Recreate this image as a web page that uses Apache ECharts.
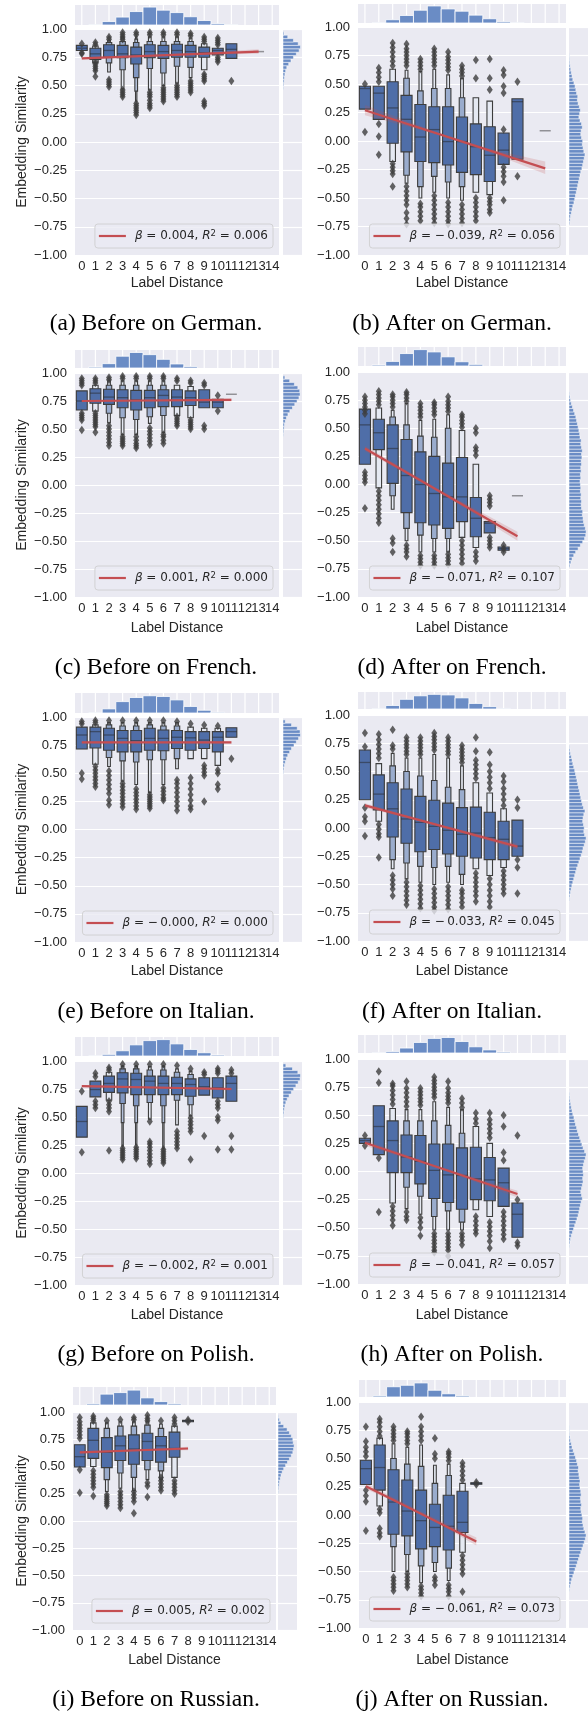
<!DOCTYPE html>
<html><head><meta charset="utf-8">
<script src="https://cdn.jsdelivr.net/npm/echarts@6/dist/echarts.min.js"></script>
<style>html,body{margin:0;padding:0;background:#fff}#c{width:588px;height:1713px}</style>
</head><body><div id="c"></div><script>
// ---------------- DATA ----------------
const cats = ['0','1','2','3','4','5','6','7','8','9','10','11','12','13','14'];
// boxen rows: [category, median, q1, q3, lvl2lo, lvl2hi, lvl3lo, lvl3hi, ...]
const boxA = [[0,0.83,0.81,0.855],[1,0.78,0.73,0.83,0.70,0.85],[2,0.81,0.75,0.86,0.70,0.88,0.62,0.90],[3,0.78,0.745,0.855,0.64,0.89,0.47,0.93],[4,0.77,0.69,0.84,0.57,0.88,0.45,0.91,0.36,0.93],[5,0.80,0.745,0.86,0.65,0.89,0.46,0.93],[6,0.80,0.74,0.855,0.61,0.89,0.50,0.93],[7,0.81,0.75,0.865,0.67,0.89,0.52,0.93],[8,0.80,0.75,0.855,0.66,0.89,0.57,0.92],[9,0.79,0.75,0.84,0.64,0.87],[10,0.81,0.77,0.83],[11,0.82,0.74,0.87],[13,0.80]];
const outA = [[0,0.78,0.79,0.87],[1,0.58,0.63,0.65,0.67,0.69,0.71,0.86,0.88],[2,0.49,0.51,0.53,0.55,0.91,0.93],[3,0.40,0.42,0.44,0.46,0.91,0.93,0.95,0.97],[4,0.24,0.26,0.28,0.30,0.32,0.34,0.95,0.97],[5,0.30,0.32,0.34,0.37,0.40,0.42,0.44,0.95,0.97],[6,0.36,0.38,0.40,0.42,0.44,0.46,0.48,0.95,0.97],[7,0.40,0.42,0.44,0.46,0.48,0.50,0.95,0.97],[8,0.44,0.46,0.48,0.50,0.52,0.54,0.94,0.96],[9,0.32,0.34,0.36,0.54,0.56,0.58,0.60,0.89,0.91,0.93],[10,0.71,0.73,0.75,0.86,0.88,0.90,0.92],[11,0.54]];
const regA = [[0,0.74],[13,0.80]];
const ciA = [[0,0.728,0.752],[6,0.765,0.775],[13,0.78,0.82]];
const legA = ['0.004','0.006'];

const boxB = [[0,0.46,0.28,0.48],[1,0.42,0.19,0.48],[2,0.29,-0.02,0.52,-0.18,0.63],[3,0.19,-0.095,0.40,-0.30,0.55,-0.37,0.62],[4,0.035,-0.18,0.32,-0.40,0.44,-0.50,0.61],[5,0.10,-0.19,0.30,-0.31,0.46,-0.45,0.63],[6,-0.005,-0.21,0.30,-0.36,0.46,-0.50,0.58],[7,-0.005,-0.275,0.21,-0.40,0.38,-0.52,0.55],[8,-0.05,-0.295,0.15,-0.45,0.38],[9,-0.125,-0.355,0.125,-0.47,0.35],[10,-0.08,-0.205,0.07],[11,0.345,-0.16,0.37],[13,0.09]];
const outB = [[0,0.08,0.50],[1,0.64,0.60,0.56,0.52,0.15,0.04,-0.12],[2,0.66,0.70,0.74,0.78,0.82,0.86,-0.20,-0.23,-0.26,-0.29,-0.40],[3,0.66,0.69,0.72,0.75,0.78,0.81,0.85,-0.40,-0.44,-0.48,-0.52,-0.56,-0.63,-0.68,-0.73],[4,0.63,0.66,0.69,0.72,-0.55,-0.58,-0.62,-0.66,-0.70],[5,0.66,0.69,0.72,0.75,0.78,0.81,-0.48,-0.52,-0.56,-0.60,-0.64,-0.68,-0.72],[6,0.62,0.65,0.68,0.71,0.74,0.78,-0.54,-0.58,-0.62,-0.66,-0.70,-0.73],[7,0.57,0.60,0.63,0.66,-0.56,-0.60,-0.64,-0.68,-0.72],[8,0.55,0.71,-0.50,-0.54,-0.58,-0.62,-0.66,-0.70],[9,0.45,0.55,0.72,-0.50,-0.53,-0.56,-0.60,-0.63],[10,0.62,0.58,0.48,0.42,0.10,-0.23,-0.27,-0.31,-0.36,-0.52],[11,0.52,-0.31]];
const regB = [[0,0.27],[13,-0.24]];
const ciB = [[0,0.225,0.315],[5,0.065,0.085],[9,-0.10,-0.07],[13,-0.29,-0.18]];
const legB = ['−\u20090.039','0.056'];

const boxC = [[0,0.75,0.67,0.84],[1,0.82,0.73,0.86,0.66,0.89],[2,0.785,0.72,0.855,0.64,0.89,0.555,0.93],[3,0.78,0.69,0.85,0.60,0.89,0.45,0.93],[4,0.76,0.67,0.845,0.585,0.89,0.45,0.93],[5,0.78,0.69,0.845,0.61,0.89,0.55,0.93],[6,0.80,0.70,0.85,0.62,0.89,0.47,0.93],[7,0.785,0.70,0.85,0.62,0.89],[8,0.78,0.71,0.84,0.60,0.88],[9,0.74,0.69,0.85],[10,0.74,0.69,0.765],[11,0.81]];
const outC = [[0,0.49,0.58,0.60,0.62,0.64,0.89,0.91,0.93,0.95],[1,0.47,0.52,0.54,0.56,0.58,0.60,0.62,0.64,0.91,0.93,0.95],[2,0.35,0.38,0.41,0.44,0.47,0.50,0.53,0.94,0.96],[3,0.35,0.37,0.39,0.41,0.43,0.95,0.97],[4,0.33,0.35,0.37,0.40,0.43,0.95,0.97],[5,0.36,0.39,0.42,0.45,0.48,0.51,0.95,0.97],[6,0.37,0.40,0.43,0.45,0.95,0.97],[7,0.53,0.55,0.57,0.59,0.61,0.93,0.95],[8,0.50,0.52,0.54,0.56,0.58,0.91,0.93],[9,0.50,0.53,0.89,0.91],[10,0.66,0.80]];
const regC = [[0,0.75],[11,0.76]];
const ciC = [[0,0.74,0.76],[5,0.75,0.76],[11,0.745,0.775]];
const legC = ['0.001','0.000'];

const boxD = [[0,0.53,0.18,0.67],[1,0.46,0.31,0.58,-0.03,0.68],[2,0.32,0.01,0.53,-0.10,0.60,-0.22,0.66],[3,0.08,-0.25,0.40,-0.39,0.53,-0.50,0.72],[4,0.00,-0.34,0.29,-0.45,0.43,-0.60,0.57],[5,-0.08,-0.36,0.25,-0.48,0.42,-0.60,0.58],[6,-0.11,-0.39,0.19,-0.48,0.50,-0.60,0.62],[7,-0.11,-0.33,0.24,-0.47,0.48],[8,-0.30,-0.465,-0.115,-0.56,0.18],[9,-0.345,-0.43,-0.33],[10,-0.57,-0.585,-0.555],[11,-0.10]];
const outD = [[0,0.63,0.66,0.69,0.72,0.75,0.78,0.11,0.08,0.05,0.02,-0.21],[1,0.71,0.74,0.77,0.80,0.83,-0.06,-0.10,-0.14,-0.18,-0.22,-0.26,-0.30,-0.34],[2,0.69,0.72,0.75,0.78,0.80,-0.48,-0.52,-0.60],[3,0.74,0.77,0.80,0.82,-0.54,-0.57,-0.60,-0.64],[4,0.60,0.63,0.66,0.69,0.72,-0.63,-0.66,-0.69,-0.72],[5,0.62,0.65,0.68,0.71,0.73,-0.63,-0.66,-0.69,-0.72],[6,0.65,0.68,0.71,0.74,0.78,-0.62,-0.65,-0.68,-0.71],[7,0.51,0.54,0.57,0.60,0.62,-0.50,-0.54,-0.58,-0.62,-0.66,-0.70],[8,0.26,0.30,0.33,0.46,0.50,-0.60,-0.64,-0.68],[9,-0.10,-0.13,-0.16,-0.19,-0.47,-0.50,-0.53,-0.56],[10,-0.54,-0.57,-0.60]];
const regD = [[0,0.32],[11,-0.46]];
const ciD = [[0,0.295,0.345],[5,-0.04,-0.02],[11,-0.50,-0.42]];
const legD = ['−\u20090.071','0.107'];

const boxE = [[0,0.84,0.715,0.91],[1,0.87,0.725,0.91,0.58,0.93],[2,0.84,0.705,0.90,0.64,0.93,0.56,0.95],[3,0.81,0.69,0.88,0.61,0.92,0.43,0.95],[4,0.79,0.69,0.88,0.60,0.92,0.40,0.95],[5,0.81,0.705,0.90,0.62,0.93,0.33,0.95],[6,0.81,0.70,0.885,0.62,0.92,0.40,0.95],[7,0.82,0.72,0.88,0.63,0.92,0.54,0.95],[8,0.815,0.705,0.87,0.63,0.91],[9,0.795,0.72,0.87,0.63,0.90],[10,0.82,0.69,0.87,0.57,0.90],[11,0.87,0.82,0.905]];
const outE = [[0,0.45,0.50,0.94,0.96],[1,0.38,0.41,0.44,0.47,0.50,0.53,0.56,0.95,0.97],[2,0.22,0.26,0.32,0.36,0.40,0.44,0.48,0.52,0.97],[3,0.20,0.23,0.26,0.29,0.32,0.35,0.38,0.41,0.97],[4,0.18,0.21,0.24,0.27,0.30,0.33,0.36,0.97],[5,0.19,0.21,0.23,0.25,0.27,0.29,0.31,0.97],[6,0.26,0.28,0.31,0.34,0.37,0.97],[7,0.17,0.21,0.25,0.29,0.33,0.37,0.41,0.44,0.96],[8,0.18,0.21,0.26,0.31,0.36,0.41,0.46,0.94],[9,0.25,0.48,0.51,0.54,0.57,0.93],[10,0.36,0.40,0.50,0.53,0.92],[11,0.63]];
const regE = [[0,0.775],[11,0.775]];
const ciE = [[0,0.765,0.785],[5,0.77,0.78],[11,0.763,0.787]];
const legE = ['−\u20090.000','0.000'];

const boxF = [[0,0.58,0.25,0.69],[1,0.30,0.16,0.47,0.06,0.57],[2,0.17,-0.08,0.40,-0.28,0.55,-0.36,0.66],[3,0.08,-0.135,0.345,-0.31,0.50,-0.45,0.62],[4,0.05,-0.21,0.28,-0.34,0.46,-0.48,0.62],[5,0.015,-0.19,0.245,-0.35,0.42,-0.50,0.65],[6,-0.02,-0.23,0.22,-0.34,0.36,-0.48,0.62],[7,-0.055,-0.25,0.18,-0.41,0.34,-0.50,0.55],[8,-0.045,-0.265,0.185,-0.36,0.40],[9,-0.085,-0.28,0.14,-0.42,0.31],[10,-0.10,-0.28,0.06,-0.35,0.17],[11,-0.16,-0.25,0.07]];
const outF = [[0,0.84,0.72,0.18,0.10,0.06,-0.07],[1,0.62,0.66,0.70,0.74,0.78,0.83,0.03,-0.01,-0.05,-0.08,-0.26],[2,0.70,0.73,0.87,-0.42,-0.46,-0.50,-0.54,-0.60],[3,0.65,0.68,0.71,0.74,0.77,0.80,-0.48,-0.52,-0.56,-0.60,-0.64,-0.68],[4,0.65,0.68,0.71,0.74,0.77,0.80,-0.51,-0.55,-0.59,-0.63,-0.67,-0.71],[5,0.69,0.72,0.75,0.78,0.81,0.84,-0.54,-0.58,-0.62,-0.66,-0.70,-0.73],[6,0.65,0.68,0.71,0.74,0.77,0.80,-0.52,-0.56,-0.60,-0.64,-0.68,-0.72],[7,0.58,0.61,0.64,0.67,0.70,0.73,-0.55,-0.58,-0.62,-0.66,-0.70],[8,0.44,0.48,0.52,0.56,0.60,0.68,0.80,-0.40,-0.44,-0.48,-0.52,-0.56,-0.60,-0.65],[9,0.35,0.40,0.45,0.50,0.56,0.67,-0.45,-0.50,-0.55,-0.60,-0.65,-0.70],[10,0.20,0.25,0.30,0.35,0.41,0.46,-0.38,-0.42,-0.46,-0.50,-0.54,-0.58],[11,0.25,0.18,-0.28,-0.35,-0.58]];
const regF = [[0,0.20],[11,-0.165]];
const ciF = [[0,0.18,0.22],[5,0.03,0.045],[11,-0.19,-0.14]];
const legF = ['−\u20090.033','0.045'];

const boxG = [[0,0.46,0.32,0.595],[1,0.745,0.68,0.82],[2,0.80,0.72,0.865,0.65,0.90],[3,0.84,0.715,0.895,0.62,0.93,0.45,0.95,0.24,0.96],[4,0.835,0.70,0.89,0.60,0.93,0.45,0.95,0.25,0.96],[5,0.82,0.70,0.865,0.63,0.92,0.48,0.95],[6,0.80,0.70,0.865,0.60,0.92,0.45,0.95,0.22,0.96],[7,0.80,0.70,0.855,0.65,0.90,0.43,0.93],[8,0.79,0.685,0.84,0.61,0.88,0.51,0.91],[9,0.77,0.695,0.85],[10,0.76,0.67,0.85],[11,0.80,0.64,0.865]];
const outG = [[0,0.73,0.185],[1,0.86,0.89,0.64,0.61,0.58],[2,0.20,0.55,0.58,0.61,0.64,0.92,0.94],[3,0.12,0.14,0.16,0.18,0.20,0.22,0.97],[4,0.13,0.15,0.17,0.19,0.21,0.23,0.97],[5,0.08,0.11,0.14,0.17,0.20,0.23,0.26,0.28,0.46,0.97],[6,0.09,0.11,0.13,0.15,0.17,0.19,0.21,0.97],[7,0.22,0.25,0.28,0.31,0.34,0.37,0.96],[8,0.12,0.37,0.40,0.43,0.46,0.49,0.93],[9,0.33,0.88,0.90],[10,0.21,0.47,0.50,0.58,0.61,0.64,0.89,0.91,0.93],[11,0.21,0.33,0.89,0.92]];
const regG = [[0,0.775],[11,0.75]];
const ciG = [[0,0.765,0.785],[5,0.76,0.77],[11,0.737,0.763]];
const legG = ['−\u20090.002','0.001'];

const boxH = [[0,0.275,0.25,0.295],[1,0.40,0.15,0.585],[2,0.275,-0.01,0.45,-0.28,0.56],[3,0.13,-0.01,0.325,-0.14,0.45,-0.33,0.55],[4,0.09,-0.11,0.32,-0.22,0.45,-0.38,0.55],[5,0.01,-0.24,0.245,-0.40,0.45,-0.52,0.62],[6,-0.03,-0.275,0.245,-0.35,0.41,-0.52,0.57],[7,-0.035,-0.335,0.21,-0.45,0.34,-0.52,0.55],[8,-0.065,-0.25,0.215,-0.34,0.40],[9,-0.075,-0.26,0.125,-0.40,0.25],[10,-0.10,-0.31,0.03],[11,-0.38,-0.585,-0.28]];
const outH = [[0,0.23,0.32],[1,0.89,0.79,0.12,-0.36],[2,0.60,0.64,0.68,0.72,0.76,0.78,-0.31,-0.35,-0.39,-0.43,-0.48],[3,0.58,0.62,0.66,0.70,0.74,0.80,-0.36,-0.40,-0.43],[4,0.59,0.62,0.65,0.68,0.71,0.74,-0.41,-0.45,-0.50,-0.57],[5,0.66,0.69,0.72,0.75,0.78,0.81,0.84,-0.55,-0.58,-0.61,-0.64,-0.67,-0.70,-0.72],[6,0.61,0.64,0.67,0.70,0.74,0.80,-0.55,-0.58,-0.61,-0.64,-0.67,-0.70,-0.75],[7,0.57,0.61,0.65,-0.55,-0.58,-0.61,-0.65],[8,0.43,0.47,0.52,-0.40,-0.44,-0.48,-0.52,-0.55],[9,0.30,0.34,0.38,0.42,0.46,0.52,-0.45,-0.49,-0.53,-0.57,-0.62,-0.68],[10,0.50,0.40,0.17,0.10,-0.36,-0.40,-0.44,-0.48,-0.52,-0.56,-0.60],[11,0.32,-0.25,-0.63,-0.66]];
const regH = [[0,0.255],[11,-0.20]];
const ciH = [[0,0.23,0.28],[5,0.04,0.06],[11,-0.23,-0.17]];
const legH = ['−\u20090.041','0.057'];

const boxI = [[0,0.59,0.495,0.70],[1,0.74,0.575,0.85,0.50,0.90],[2,0.63,0.49,0.765,0.38,0.85,0.27,0.90],[3,0.69,0.555,0.78,0.44,0.87,0.30,0.91],[4,0.66,0.52,0.79,0.40,0.87,0.28,0.91],[5,0.73,0.555,0.805,0.47,0.88,0.38,0.91],[6,0.69,0.54,0.775,0.46,0.85,0.38,0.89],[7,0.665,0.585,0.815,0.40,0.87],[8,0.92,0.915,0.925]];
const outI = [[0,0.76,0.79,0.82,0.85,0.88,0.91,0.95,0.47,0.26],[1,0.23,0.31,0.34,0.37,0.40,0.43,0.46,0.92,0.94,0.96],[2,0.14,0.16,0.18,0.20,0.22,0.24,0.92],[3,0.12,0.15,0.18,0.21,0.24,0.27,0.93],[4,0.07,0.18,0.21,0.24,0.27,0.93,0.95],[5,0.22,0.32,0.35,0.92,0.94,0.97],[6,0.28,0.31,0.34,0.37,0.40,0.92],[7,0.25,0.28,0.31,0.34,0.37,0.89,0.92,0.95],[8,0.91,0.93]];
const regI = [[0,0.63],[8,0.665]];
const ciI = [[0,0.618,0.642],[4,0.642,0.652],[8,0.648,0.682]];
const legI = ['0.005','0.002'];

const boxJ = [[0,0.41,0.27,0.485],[1,0.42,0.22,0.62,0.08,0.68],[2,0.115,-0.17,0.40,-0.28,0.50,-0.50,0.63],[3,0.035,-0.185,0.31,-0.35,0.45,-0.50,0.60],[4,-0.05,-0.30,0.22,-0.45,0.43,-0.60,0.62],[5,-0.11,-0.28,0.095,-0.42,0.28,-0.50,0.44],[6,-0.10,-0.31,0.175,-0.47,0.35,-0.58,0.45],[7,-0.065,-0.155,0.21,-0.33,0.28],[8,0.28,0.275,0.285]];
const outJ = [[0,0.78,0.65,0.60,0.56,0.52,0.22,0.17,0.12,-0.14],[1,0.70,0.74,0.78,0.82,0.85,0.05,0.02,-0.12,-0.16,-0.19],[2,0.66,0.69,0.72,0.75,0.78,-0.55,-0.58,-0.61,-0.64,-0.67],[3,0.63,0.66,0.69,0.72,0.74,-0.52,-0.55,-0.58,-0.61,-0.64],[4,0.66,0.70,0.74,0.78,0.87,-0.63,-0.66,-0.69,-0.72],[5,0.50,0.54,0.68,-0.55,-0.58,-0.62],[6,0.48,0.51,0.54,0.56,-0.62,-0.65,-0.68,-0.72],[7,0.31,0.35,0.39,0.43,0.46,-0.36,-0.40,-0.44,-0.48,-0.52,-0.68],[8,0.27,0.29]];
const regJ = [[0,0.255],[8,-0.235]];
const ciJ = [[0,0.23,0.28],[4,0.01,0.03],[8,-0.27,-0.20]];
const legJ = ['−\u20090.061','0.073'];

// top marginal histograms (per category slot)
const topDE = [0,1,10,23,39,52,43,36,24,13,4,1,0,0,0];
const topFR = [0,3,14,38,50,43,28,13,5,0,0,0,0,0,0];
const topIT = [0,1,12,33,45,50,48,38,19,8,2,0,0,0,0];
const topPL = [0,1,5,16,34,47,50,37,20,10,3,0,0,0,0];
const topRU = [0,4,35,40,48,23,11,4,0,0,0,0,0,0,0];

// side marginal histograms: first bin centre, bin width 0.03, relative counts
const sideBin = 0.03;
const sideStartA = 0.48, sideA = [3,4,6,8,10,14,20,30,42,55,70,85,92,80,55,25,5];
const sideStartB = -0.72, sideB = [4,6,8,12,16,20,26,30,34,38,42,46,50,54,58,62,68,72,76,80,84,78,74,70,72,66,62,64,70,66,58,52,56,60,54,48,44,46,40,36,32,26,20,16,12,9,6,4,3,2];
const sideStartC = 0.45, sideC = [3,4,6,8,12,18,26,36,50,62,74,84,90,88,78,60,35,10];
const sideStartD = -0.72, sideD = [5,10,16,25,35,48,60,72,82,88,90,86,80,76,74,70,72,66,64,66,62,64,60,62,60,58,62,60,64,62,66,64,68,66,70,66,62,64,58,56,52,48,44,40,36,30,24,18,12,8,5,3];
const sideStartE = 0.51, sideE = [3,5,8,12,18,25,35,45,58,70,82,92,90,75,45,12];
const sideStartF = -0.63, sideF = [3,5,8,11,15,20,25,30,35,40,46,52,58,64,70,74,80,86,90,82,78,80,76,72,74,78,84,76,70,66,62,58,54,50,46,42,38,34,30,25,20,16,12,8,5,3];
const sideStartG = 0.51, sideG = [3,5,7,10,15,22,32,44,56,68,80,90,92,78,50,15];
const sideStartH = -0.66, sideH = [3,5,8,12,18,24,30,36,42,48,52,56,60,64,70,66,62,66,70,74,72,76,74,72,76,80,86,90,82,74,68,62,56,50,44,40,34,30,26,20,16,12,9,6,4,3];
const sideStartI = 0.27, sideI = [3,4,6,8,12,16,22,30,40,50,60,70,78,82,85,80,78,70,60,48,30,15,8,3];
const sideStartJ = -0.66, sideJ = [3,6,10,14,20,26,32,38,44,50,56,62,68,74,80,86,90,84,78,74,70,72,68,64,62,66,62,60,64,62,58,56,58,54,52,48,50,44,40,34,28,22,16,12,8,5,3,2,2];

const captions = ['(a) Before on German.','(b) After on German.','(c) Before on French.','(d) After on French.','(e) Before on Italian.','(f) After on Italian.','(g) Before on Polish.','(h) After on Polish.','(i) Before on Russian.','(j) After on Russian.'];
const xName = 'Label Distance', yName = 'Embedding Similarity';

// ---------------- STYLE / LAYOUT ----------------
const C = {bg:'#eaeaf2', grid:'#ffffff', text:'#262626', box:'#4f6ea8', edge:'#3d3d3d', hist:'#6a8cc5', red:'#c44e52'};
const SANS = '"Liberation Sans", Arial, sans-serif';
const panels = [
 {box:boxA,out:outA,reg:regA,ci:ciA,leg:legA,top:topDE,ss:sideStartA,side:sideA,main:[75,29,204,226],tp:[75,5,204,20],sd:[283,29,19,226],lab:283,cap:324,left:true},
 {box:boxB,out:outB,reg:regB,ci:ciB,leg:legB,top:topDE,ss:sideStartB,side:sideB,main:[358,27,208,228],tp:[358,4,208,19],sd:[569,27,20,228],lab:283,cap:324,left:false},
 {box:boxC,out:outC,reg:regC,ci:ciC,leg:legC,top:topFR,ss:sideStartC,side:sideC,main:[75,373,204,224],tp:[75,350,204,18],sd:[283,373,19,224],lab:628,cap:668,left:true},
 {box:boxD,out:outD,reg:regD,ci:ciD,leg:legD,top:topFR,ss:sideStartD,side:sideD,main:[358,372,208,225],tp:[358,347,208,19],sd:[569,372,20,225],lab:628,cap:668,left:false},
 {box:boxE,out:outE,reg:regE,ci:ciE,leg:legE,top:topIT,ss:sideStartE,side:sideE,main:[75,717,204,225],tp:[75,693,204,20],sd:[283,717,19,225],lab:971,cap:1012,left:true},
 {box:boxF,out:outF,reg:regF,ci:ciF,leg:legF,top:topIT,ss:sideStartF,side:sideF,main:[358,715,208,226],tp:[358,692,208,17],sd:[569,715,20,226],lab:971,cap:1012,left:false},
 {box:boxG,out:outG,reg:regG,ci:ciG,leg:legG,top:topPL,ss:sideStartG,side:sideG,main:[75,1061,204,224],tp:[75,1037,204,19],sd:[283,1061,19,224],lab:1315,cap:1355,left:true},
 {box:boxH,out:outH,reg:regH,ci:ciH,leg:legH,top:topPL,ss:sideStartH,side:sideH,main:[358,1059,208,225],tp:[358,1035,208,18],sd:[569,1059,20,225],lab:1315,cap:1355,left:false},
 {box:boxI,out:outI,reg:regI,ci:ciI,leg:legI,top:topRU,ss:sideStartI,side:sideI,main:[73,1412,203,218],tp:[73,1387,203,18],sd:[278,1412,19,218],lab:1660,cap:1700,left:true},
 {box:boxJ,out:outJ,reg:regJ,ci:ciJ,leg:legJ,top:topRU,ss:sideStartJ,side:sideJ,main:[359,1402,207,226],tp:[359,1380,207,17],sd:[569,1402,20,226],lab:1660,cap:1700,left:false}
];

function mix(a, b, t) {
  const pa = [1,3,5].map(i => parseInt(a.substr(i,2),16));
  const pb = [1,3,5].map(i => parseInt(b.substr(i,2),16));
  return 'rgb(' + pa.map((v,i) => Math.round(v + (pb[i]-v)*t)).join(',') + ')';
}
function fmtY(v) { return (v < 0 ? '−' : '') + Math.abs(v).toFixed(2); }
const mctx = document.createElement('canvas').getContext('2d');
function tw(s, font) { mctx.font = font; return mctx.measureText(s).width; }

function boxenItem(boxes) {
  return function (params, api) {
    const b = boxes[params.dataIndex];
    const cat = b[0];
    const cx = api.coord([cat, 0])[0];
    const bw = api.size([1, 0])[0] * 0.8;
    const n = (b.length - 2) / 2;
    const ym = api.coord([cat, b[1]])[1];
    const ch = [];
    if (n < 1) {
      ch.push({type:'line', shape:{x1:cx-bw/2, y1:ym, x2:cx+bw/2, y2:ym}, style:{stroke:'rgba(38,38,38,0.45)', lineWidth:1.5}});
      return {type:'group', children:ch};
    }
    for (let j = n - 1; j >= 0; j--) {
      const lo = b[2+2*j], hi = b[3+2*j];
      const w = bw * Math.pow(0.5, j);
      const yt = api.coord([cat, hi])[1], yb = api.coord([cat, lo])[1];
      const t = n === 1 ? 0 : 0.85 * j / (n - 1);
      ch.push({type:'rect', shape:{x:cx-w/2, y:yt, width:w, height:Math.max(yb-yt, 1.5)},
        style:{fill:mix(C.box,'#ffffff',t), stroke:C.edge, lineWidth:1.1}});
    }
    ch.push({type:'line', shape:{x1:cx-bw/2, y1:ym, x2:cx+bw/2, y2:ym}, style:{stroke:'rgba(38,38,38,0.5)', lineWidth:1.3}});
    return {type:'group', children:ch};
  };
}

const grid = [], xAxis = [], yAxis = [], series = [], graphic = [];
panels.forEach((p, i) => {
  const g0 = 3*i, g1 = 3*i+1, g2 = 3*i+2;
  grid.push({left:p.main[0], top:p.main[1], width:p.main[2], height:p.main[3], show:true, backgroundColor:C.bg, borderWidth:0});
  grid.push({left:p.tp[0], top:p.tp[1], width:p.tp[2], height:p.tp[3], show:true, backgroundColor:C.bg, borderWidth:0});
  grid.push({left:p.sd[0], top:p.sd[1], width:p.sd[2], height:p.sd[3], show:true, backgroundColor:C.bg, borderWidth:0});
  xAxis.push({gridIndex:g0, type:'category', data:cats, boundaryGap:true, axisLine:{show:false}, axisTick:{show:false}, splitLine:{show:false},
    axisLabel:{interval:0, color:C.text, fontFamily:SANS, fontSize:13, margin:5}});
  xAxis.push({gridIndex:g1, type:'category', data:cats, boundaryGap:true, show:false});
  xAxis.push({gridIndex:g2, type:'value', min:0, max:100, show:false});
  yAxis.push({gridIndex:g0, type:'value', min:-1, max:1, interval:0.25, axisLine:{show:false}, axisTick:{show:false},
    splitLine:{show:true, lineStyle:{color:C.grid, width:1.2}},
    axisLabel:{color:C.text, fontFamily:SANS, fontSize:13, margin:8, formatter:fmtY}});
  yAxis.push({gridIndex:g1, type:'value', min:0, max:58, show:false});
  yAxis.push({gridIndex:g2, type:'value', min:-1, max:1, interval:0.25, axisLine:{show:false}, axisTick:{show:false}, axisLabel:{show:false},
    splitLine:{show:true, lineStyle:{color:C.grid, width:1.2}}});

  // top histogram: white vertical grid at slot centres, then bars
  series.push({type:'custom', xAxisIndex:g1, yAxisIndex:g1, z:1, silent:true,
    data: cats.map((c,k) => [k, 0]),
    renderItem: (params, api) => {
      const a = api.coord([api.value(0), 0]), b = api.coord([api.value(0), 58]);
      return {type:'line', shape:{x1:a[0], y1:a[1], x2:b[0], y2:b[1]}, style:{stroke:'#ffffff', lineWidth:1.2}};
    }});
  series.push({type:'custom', xAxisIndex:g1, yAxisIndex:g1, z:2, silent:true,
    data: p.top.map((v,k) => [k, v]),
    renderItem: (params, api) => {
      const v = api.value(1); if (!v) return null;
      const w = api.size([1, 0])[0];
      const a = api.coord([api.value(0), 0]), b = api.coord([api.value(0), v]);
      return {type:'rect', shape:{x:a[0]-w/2, y:b[1], width:w, height:a[1]-b[1]}, style:{fill:C.hist, stroke:'#ffffff', lineWidth:0.8}};
    }});
  // side histogram
  series.push({type:'custom', xAxisIndex:g2, yAxisIndex:g2, z:2, silent:true,
    data: p.side.map((v,k) => [v, p.ss + k*sideBin]),
    renderItem: (params, api) => {
      const v = api.value(0), yc = api.value(1);
      const a = api.coord([0, yc + sideBin/2]), b = api.coord([v, yc - sideBin/2]);
      return {type:'rect', shape:{x:a[0], y:a[1], width:b[0]-a[0], height:b[1]-a[1]}, style:{fill:C.hist, stroke:'#ffffff', lineWidth:0.5}};
    }});
  // boxen
  series.push({type:'custom', xAxisIndex:g0, yAxisIndex:g0, z:3, silent:true,
    data: p.box.map(b => [b[0], b[1]]), renderItem: boxenItem(p.box)});
  // outliers
  series.push({type:'scatter', xAxisIndex:g0, yAxisIndex:g0, z:4, silent:true, symbol:'diamond', symbolSize:[6,8.5],
    itemStyle:{color:C.edge}, data: p.out.flatMap(o => o.slice(1).map(v => [o[0], v]))});
  // regression CI band
  series.push({type:'custom', xAxisIndex:g0, yAxisIndex:g0, z:5, silent:true, data:[[0,0]],
    renderItem: ((ci) => (params, api) => {
      const pts = ci.map(c => api.coord([c[0], c[2]])).concat(ci.slice().reverse().map(c => api.coord([c[0], c[1]])));
      return {type:'polygon', shape:{points:pts}, style:{fill:'rgba(196,78,82,0.2)'}};
    })(p.ci)});
  // regression line
  series.push({type:'line', xAxisIndex:g0, yAxisIndex:g0, z:6, silent:true, symbol:'none', data:p.reg,
    lineStyle:{color:C.red, width:2.2}});

  // legend box (lower right of main grid)
  const f = '12px "DejaVu Sans"', fi = 'italic 12px "DejaVu Sans"', fs = '8.5px "DejaVu Sans"';
  const t1 = ' = ' + p.leg[0] + ', ', t2 = ' = ' + p.leg[1];
  const textW = tw('β', fi) + tw(t1, f) + tw('R', fi) + tw('2', fs) + tw(t2, f);
  const lw = 4 + 27 + 9 + textW + 5, lh = 24;
  const R = p.main[0] + p.main[2] - 6, B = p.main[1] + p.main[3] - 7;
  graphic.push({type:'rect', z:100, shape:{x:R-lw, y:B-lh, width:lw, height:lh, r:3}, style:{fill:'rgba(234,234,242,0.8)', stroke:'#cccccc', lineWidth:0.8}});
  graphic.push({type:'line', z:101, shape:{x1:R-lw+4, y1:B-lh/2, x2:R-lw+31, y2:B-lh/2}, style:{stroke:C.red, lineWidth:2.2}});
  graphic.push({type:'text', z:101, x:R-lw+40, y:B-lh/2, style:{
    text:'{i|β}{n|' + t1 + '}{i|R}{s|2}{n|' + t2 + '}', fill:C.text,
    align:'left', verticalAlign:'middle', textAlign:'left', textVerticalAlign:'middle',
    rich:{i:{font:fi, fill:C.text, lineHeight:14}, n:{font:f, fill:C.text, lineHeight:14}, s:{font:fs, fill:C.text, lineHeight:8, verticalAlign:'top'}}}});
  // axis title texts
  graphic.push({type:'text', x:p.main[0] + p.main[2]/2, y:p.lab, style:{text:xName, font:'14px ' + SANS, fill:C.text,
    align:'center', verticalAlign:'middle', textAlign:'center', textVerticalAlign:'middle'}});
  if (p.left) {
    graphic.push({type:'text', x:22, y:p.main[1] + p.main[3]/2, rotation:Math.PI/2, style:{text:yName, font:'14px ' + SANS, fill:C.text,
      align:'center', verticalAlign:'middle', textAlign:'center', textVerticalAlign:'middle'}});
  }
  // caption
  graphic.push({type:'text', x:p.left ? 156 : 452, y:p.cap, style:{text:captions[i], font:'23.5px "Liberation Serif", "Times New Roman", serif', fill:'#000000',
    align:'center', verticalAlign:'middle', textAlign:'center', textVerticalAlign:'middle'}});
});

const chart = echarts.init(document.getElementById('c'), null, {renderer:'canvas'});
chart.setOption({animation:false, backgroundColor:'#ffffff', grid, xAxis, yAxis, series, graphic:{elements:graphic}});
</script></body></html>
